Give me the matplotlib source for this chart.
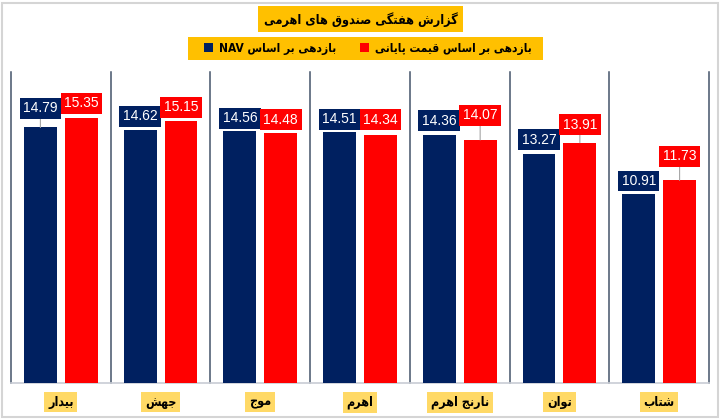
import re
import matplotlib
matplotlib.use("Agg")
import matplotlib.pyplot as plt
from matplotlib.patches import Rectangle
import numpy as np

# ---- data ----
funds = ["بیدار", "جهش", "موج", "اهرم", "نارنج اهرم", "توان", "شتاب"]
nav_ret = [14.79, 14.62, 14.56, 14.51, 14.36, 13.27, 10.91]
price_ret = [15.35, 15.15, 14.48, 14.34, 14.07, 13.91, 11.73]
title = "گزارش هفتگی صندوق های اهرمی"
nav_name = "بازدهی بر اساس NAV"
price_name = "بازدهی بر اساس قیمت پایانی"

# label lift above the bar top (pixels), as in the reference
nav_lift = [19, 14, 13, 13, 14, 14, 13.5]
price_lift = [14.5, 14, 13, 15.5, 24.5, 18, 24]

NAVY = "#002060"
RED = "#FF0000"
GOLD = "#FFC000"
PALE = "#FFD966"

# ---- minimal persian shaping (matplotlib draws no RTL / joining) ----
# isolated, final, initial, medial ; None -> joins only to the right
forms = {
    "ا": (0xFE8D, 0xFE8E, None, None),
    "ب": (0xFE8F, 0xFE90, 0xFE91, 0xFE92),
    "پ": (0xFB56, 0xFB57, 0xFB58, 0xFB59),
    "ت": (0xFE95, 0xFE96, 0xFE97, 0xFE98),
    "ج": (0xFE9D, 0xFE9E, 0xFE9F, 0xFEA0),
    "د": (0xFEA9, 0xFEAA, None, None),
    "ر": (0xFEAD, 0xFEAE, None, None),
    "ز": (0xFEAF, 0xFEB0, None, None),
    "س": (0xFEB1, 0xFEB2, 0xFEB3, 0xFEB4),
    "ش": (0xFEB5, 0xFEB6, 0xFEB7, 0xFEB8),
    "ص": (0xFEB9, 0xFEBA, 0xFEBB, 0xFEBC),
    "ف": (0xFED1, 0xFED2, 0xFED3, 0xFED4),
    "ق": (0xFED5, 0xFED6, 0xFED7, 0xFED8),
    "گ": (0xFB92, 0xFB93, 0xFB94, 0xFB95),
    "م": (0xFEE1, 0xFEE2, 0xFEE3, 0xFEE4),
    "ن": (0xFEE5, 0xFEE6, 0xFEE7, 0xFEE8),
    "ه": (0xFEE9, 0xFEEA, 0xFEEB, 0xFEEC),
    "و": (0xFEED, 0xFEEE, None, None),
    "ی": (0xFBFC, 0xFBFD, 0xFBFE, 0xFBFF),
}


def shape(word):
    out = []
    for i, ch in enumerate(word):
        if ch not in forms:
            out.append(ch)
            continue
        prev = word[i - 1] if i > 0 else ""
        nxt = word[i + 1] if i + 1 < len(word) else ""
        join_prev = prev in forms and forms[prev][2] is not None
        join_next = forms[ch][2] is not None and nxt in forms
        f = forms[ch]
        if join_prev and join_next:
            out.append(chr(f[3]))
        elif join_prev:
            out.append(chr(f[1]))
        elif join_next:
            out.append(chr(f[2]))
        else:
            out.append(chr(f[0]))
    return "".join(out)


def rtl(text):
    # split into latin runs and persian runs, lay them out right to left
    runs = re.split(r"([A-Za-z0-9]+)", text)
    vis = []
    for r in runs:
        if re.fullmatch(r"[A-Za-z0-9]+", r or ""):
            vis.append(r)
        elif r:
            vis.append(shape(r)[::-1])
    return " ".join(s.strip() for s in vis[::-1] if s.strip())


plt.rcParams["font.family"] = ["DejaVu Sans"]
plt.rcParams["font.stretch"] = "condensed"

fig = plt.figure(figsize=(7.2, 4.19), dpi=100)
ax = fig.add_axes([11 / 720, 36 / 419, 698 / 720, 311 / 419])

x = np.arange(len(funds))
w = 0.33
off = 0.205
b1 = ax.bar(x - off, nav_ret, w, color=NAVY, label=rtl(nav_name), zorder=3)
b2 = ax.bar(x + off, price_ret, w, color=RED, label=rtl(price_name), zorder=3)

ax.set_xlim(-0.5, len(funds) - 0.5)
ax.set_ylim(0, 18)
ax.set_yticks([])
for s in ["top", "left", "right"]:
    ax.spines[s].set_visible(False)
ax.spines["bottom"].set_color("#C8CCD4")
ax.spines["bottom"].set_linewidth(1.2)

# category separators
for xv in np.arange(-0.5, len(funds), 1.0):
    ax.axvline(xv, color="#44546A", lw=1.1, zorder=1, clip_on=False)

ax.set_xticks(x)
ax.set_xticklabels([rtl(f) for f in funds], fontsize=9, fontweight="bold")
ax.tick_params(axis="x", length=0, pad=9)
for t in ax.get_xticklabels():
    t.set_bbox(dict(facecolor=PALE, edgecolor="none", boxstyle="square,pad=0.3"))

px = 0.72  # points per pixel


def label_bars(bars, vals, lifts, color):
    for bar, v, lift in zip(bars, vals, lifts):
        cx = bar.get_x() + bar.get_width() / 2
        arrow = None
        if lift > 16:
            arrow = dict(arrowstyle="-", color="#A6A6A6", lw=0.8, shrinkA=0, shrinkB=0)
        ax.annotate(f"{v:.2f}", (cx, v), xytext=(0, lift * px),
                    textcoords="offset points", ha="center", va="center",
                    fontsize=10, color="white", family="Liberation Sans",
                    bbox=dict(facecolor=color, edgecolor="none",
                              boxstyle="square,pad=0.25"),
                    arrowprops=arrow, zorder=5)


label_bars(b1, nav_ret, nav_lift, NAVY)
label_bars(b2, price_ret, price_lift, RED)

# title and legend in gold boxes
fig.patches.append(Rectangle((258 / 720, 1 - 32 / 419), 205 / 720, 26 / 419,
                             transform=fig.transFigure, facecolor=GOLD,
                             edgecolor="none", zorder=1))
fig.text(360.5 / 720, 1 - 19.5 / 419, rtl(title), ha="center", va="center",
         fontsize=9.1, fontweight="bold", zorder=2)

fig.patches.append(Rectangle((188 / 720, 1 - 60 / 419), 355 / 720, 23 / 419,
                             transform=fig.transFigure, facecolor=GOLD,
                             edgecolor="none", zorder=1))
leg = fig.legend(handles=[b1, b2], loc="center", ncol=2,
                 bbox_to_anchor=(368 / 720, 1 - 48.5 / 419),
                 frameon=False, fontsize=8.6, handlelength=0.75, handleheight=0.75,
                 handletextpad=0.5, columnspacing=2.0, borderpad=0.2)
for t in leg.get_texts():
    t.set_fontweight("bold")

fig.patches.append(Rectangle((2 / 720, 2 / 419), 716 / 720, 414 / 419,
                             transform=fig.transFigure, fill=False,
                             edgecolor="#D5D5D5", lw=1.5))

fig.savefig("out.png", dpi=100, facecolor="white")
